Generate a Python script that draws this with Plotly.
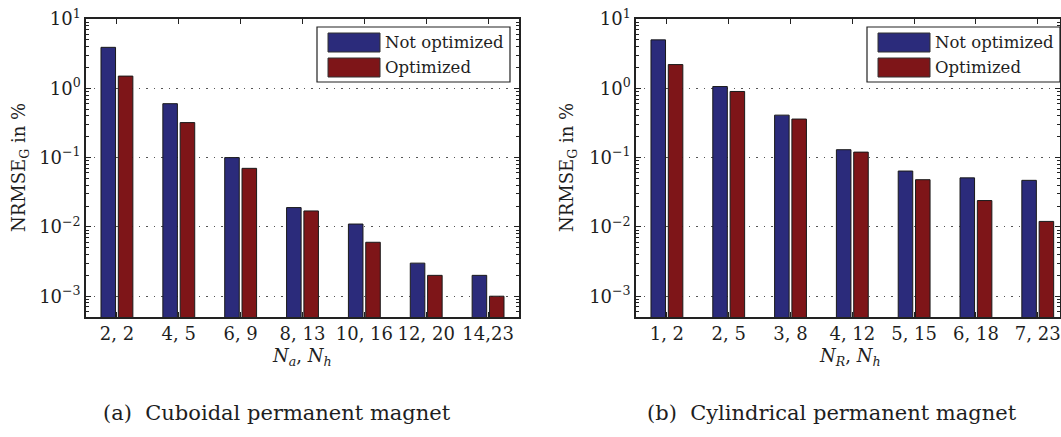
import plotly.graph_objects as go

# Cuboidal magnet: harmonic counts (N_a, N_h) and NRMSE_G in %
cub_labels = ["2, 2", "4, 5", "6, 9", "8, 13", "10, 16", "12, 20", "14,23"]
cub_not_opt = [3.9, 0.60, 0.10, 0.019, 0.011, 0.003, 0.002]
cub_opt = [1.5, 0.32, 0.07, 0.017, 0.006, 0.002, 0.001]

# Cylindrical magnet: harmonic counts (N_R, N_h) and NRMSE_G in %
cyl_labels = ["1, 2", "2, 5", "3, 8", "4, 12", "5, 15", "6, 18", "7, 23"]
cyl_not_opt = [5.0, 1.06, 0.41, 0.13, 0.064, 0.051, 0.047]
cyl_opt = [2.2, 0.9, 0.36, 0.12, 0.048, 0.024, 0.012]

series_names = ["Not optimized", "Optimized"]
BLUE = "#2b2b7b"
RED = "#7e1518"
FONT = "DejaVu Serif"
TXT = "#1e1e1e"

W, H = 1061, 437
fig = go.Figure()

def add_panel(labels, not_opt, opt, xa, ya):
    pos = list(range(1, len(labels) + 1))
    for name, vals, col in ((series_names[0], not_opt, BLUE), (series_names[1], opt, RED)):
        fig.add_trace(go.Bar(
            x=pos, y=vals, name=name, xaxis=xa, yaxis=ya,
            marker=dict(color=col, line=dict(color="#1a1a1a", width=1)),
            showlegend=False,
        ))

add_panel(cub_labels, cub_not_opt, cub_opt, "x", "y")
add_panel(cyl_labels, cyl_not_opt, cyl_opt, "x2", "y2")

major = [1e-3, 1e-2, 1e-1, 1, 10]
major_txt = ["10<sup>−3</sup>", "10<sup>−2</sup>", "10<sup>−1</sup>", "10<sup>0</sup>", "10<sup>1</sup>"]
minor = [m * 10 ** e for e in range(-4, 1) for m in range(2, 10)]

y_dom = [1 - 317 / H, 1 - 19 / H]

def yaxis_cfg(anchor):
    return dict(
        type="log", range=[-3.3, 1], domain=y_dom, anchor=anchor,
        tickmode="array", tickvals=major, ticktext=major_txt,
        ticks="inside", ticklen=5, tickwidth=1, tickcolor="#222",
        minor=dict(tickmode="array", tickvals=minor, ticks="inside",
                   ticklen=3, tickwidth=1, tickcolor="#222", showgrid=False),
        showline=True, linecolor="#222", linewidth=1.5, mirror="ticks",
        showgrid=True, gridcolor="#555", gridwidth=1, griddash="1.5px,6px",
        tickfont=dict(family=FONT, size=18, color=TXT),
        zeroline=False, automargin=False,
    )

def xaxis_cfg(labels, dom, anchor, rng):
    return dict(
        domain=dom, anchor=anchor, range=rng,
        tickmode="array", tickvals=list(range(1, len(labels) + 1)), ticktext=labels,
        tickangle=0, ticklabeloverflow="allow",
        ticks="inside", ticklen=5, tickwidth=1, tickcolor="#222",
        showline=True, linecolor="#222", linewidth=1.5, mirror="ticks",
        showgrid=False, zeroline=False, automargin=False,
        tickfont=dict(family=FONT, size=18, color=TXT),
    )

fig.update_layout(
    width=W, height=H,
    margin=dict(l=0, r=0, t=0, b=0),
    paper_bgcolor="white", plot_bgcolor="white",
    font=dict(family=FONT),
    barmode="group", bargap=0.44, bargroupgap=0.16,
    xaxis=xaxis_cfg(cub_labels, [86 / W, 519 / W], "y", [0.5, 7.5]),
    yaxis=yaxis_cfg("x"),
    xaxis2=xaxis_cfg(cyl_labels, [636 / W, 1060 / W], "y2", [0.5, 7.36]),
    yaxis2=yaxis_cfg("x2"),
)

annotations = []
shapes = []

# Legends drawn as boxes inside each panel (pixel layout converted to axis-domain units)
for xd, yd, dom0, dom1, x0_px, x1_px in (
    ("x domain", "y domain", 86, 519, 317, 510),
    ("x2 domain", "y2 domain", 636, 1060, 867, 1060),
):
    span = dom1 - dom0

    def fx(px, dom0=dom0, span=span):
        return (px - dom0) / span

    def fy(py):
        return (317 - py) / (317 - 19)

    shapes.append(dict(type="rect", xref=xd, yref=yd,
                       x0=fx(x0_px), x1=fx(x1_px), y0=fy(82), y1=fy(27),
                       line=dict(color="#222", width=1.2), fillcolor="white", layer="above"))
    for i, (nm, col) in enumerate(zip(series_names, (BLUE, RED))):
        top = 33 + i * 25
        shapes.append(dict(type="rect", xref=xd, yref=yd,
                           x0=fx(x0_px + 11), x1=fx(x0_px + 63), y0=fy(top + 19), y1=fy(top),
                           line=dict(color="#333", width=1), fillcolor=col, layer="above"))
        annotations.append(dict(xref=xd, yref=yd, x=fx(x0_px + 66), y=fy(top + 9.5),
                                text=nm, showarrow=False, xanchor="left", yanchor="middle",
                                font=dict(family=FONT, size=16.5, color=TXT)))

def label(x, y, text, angle=0, size=18):
    return dict(xref="paper", yref="paper", x=x / W, y=1 - y / H, text=text,
                textangle=angle, showarrow=False, xanchor="center", yanchor="middle",
                font=dict(family=FONT, size=size, color=TXT))

annotations += [
    label(20, 168, "NRMSE<sub>G</sub> in %", angle=-90),
    label(568, 168, "NRMSE<sub>G</sub> in %", angle=-90),
    label(302, 357, "<i>N</i><sub><i>a</i></sub>, <i>N</i><sub><i>h</i></sub>"),
    label(850, 357, "<i>N</i><sub><i>R</i></sub>, <i>N</i><sub><i>h</i></sub>"),
    label(277, 413, "(a)  Cuboidal permanent magnet", size=21),
    label(832, 413, "(b)  Cylindrical permanent magnet", size=21),
]

fig.update_layout(annotations=annotations, shapes=shapes)
fig.write_html("out.html")
